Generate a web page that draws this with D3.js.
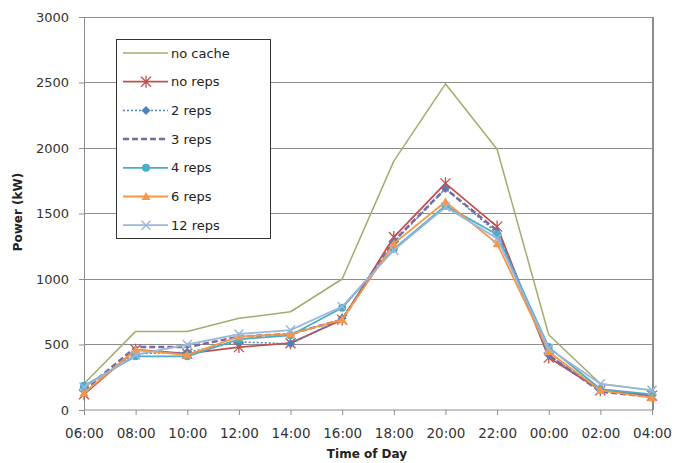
<!DOCTYPE html>
<html>
<head>
<meta charset="utf-8">
<script src="https://cdn.jsdelivr.net/npm/d3@7"></script>
<style>
  html, body { margin: 0; padding: 0; background: #fff; }
  svg { display: block; font-family: "DejaVu Sans", sans-serif; }
</style>
</head>
<body>
<svg id="chart" width="675" height="463"></svg>
<script>
const times = ["06:00","08:00","10:00","12:00","14:00","16:00","18:00","20:00","22:00","00:00","02:00","04:00"];
const yTicks = [0, 500, 1000, 1500, 2000, 2500, 3000];

const noCache = [200, 600, 600, 700, 750, 1000, 1900, 2490, 1990, 575, 200, 150];
const noReps  = [120, 460, 430, 480, 510, 690, 1320, 1730, 1400, 400, 150, 110];
const reps2   = [170, 430, 440, 520, 505, 700, 1280, 1690, 1350, 420, 150, 110];
const reps3   = [150, 480, 480, 560, 580, 690, 1290, 1690, 1370, 420, 140, 100];
const reps4   = [185, 410, 410, 540, 570, 780, 1230, 1560, 1340, 480, 160, 120];
const reps6   = [130, 460, 420, 560, 580, 690, 1270, 1590, 1270, 445, 150, 95];
const reps12  = [175, 420, 500, 580, 610, 790, 1220, 1550, 1310, 470, 200, 150];

const seriesNames = ["no cache","no reps","2 reps","3 reps","4 reps","6 reps","12 reps"];

const series = [
  {name: seriesNames[0], values: noCache, color: "#a4ab6c", width: 1.5, dash: null, marker: null},
  {name: seriesNames[1], values: noReps,  color: "#c0504d", width: 1.8, dash: null, marker: "star"},
  {name: seriesNames[2], values: reps2,   color: "#4f81bd", width: 1.5, dash: "2,2", marker: "diamond"},
  {name: seriesNames[3], values: reps3,   color: "#7a6aa0", width: 2.5, dash: "6,3", marker: null},
  {name: seriesNames[4], values: reps4,   color: "#4bacc6", width: 1.8, dash: null, marker: "circle"},
  {name: seriesNames[5], values: reps6,   color: "#f79646", width: 1.8, dash: null, marker: "triangle"},
  {name: seriesNames[6], values: reps12,  color: "#9bb7d8", width: 1.8, dash: null, marker: "x"}
];

const svg = d3.select("#chart");
const plotL = 84, plotR = 653, plotT = 17, plotB = 410;

const x = d3.scalePoint().domain(times).range([plotL, 652]).padding(0);
const y = d3.scaleLinear().domain([0, 3000]).range([plotB, plotT]);

// gridlines
svg.append("g").selectAll("line").data(yTicks.filter(d => d > 0)).join("line")
  .attr("x1", plotL).attr("x2", plotR)
  .attr("y1", d => y(d)).attr("y2", d => y(d))
  .attr("stroke", "#8c8c8c").attr("stroke-width", 1).attr("shape-rendering", "crispEdges");

// right border
svg.append("line").attr("x1", plotR).attr("x2", plotR).attr("y1", plotT).attr("y2", plotB)
  .attr("stroke", "#8c8c8c").attr("stroke-width", 1.5).attr("shape-rendering", "crispEdges");

// y axis
const yAxis = d3.axisLeft(y).tickValues(yTicks).tickSize(5).tickPadding(10).tickFormat(d3.format("d"));
const gy = svg.append("g").attr("transform", `translate(${plotL},0)`).call(yAxis);
gy.select(".domain").attr("stroke", "#8c8c8c");
gy.selectAll(".tick line").attr("stroke", "#8c8c8c");
gy.selectAll("text").attr("font-size", 13).attr("fill", "#333").attr("font-family", "DejaVu Sans, sans-serif");

// x axis
const xAxis = d3.axisBottom(x).tickSize(5).tickPadding(13);
const gx = svg.append("g").attr("transform", `translate(0,${plotB})`).call(xAxis);
gx.select(".domain").attr("stroke", "#8c8c8c").attr("d", `M${plotL},0H${plotR}`);
gx.selectAll(".tick line").attr("stroke", "#8c8c8c");
gx.selectAll("text").attr("font-size", 13.5).attr("fill", "#333").attr("font-family", "DejaVu Sans, sans-serif");

// axis titles
svg.append("text").attr("x", 367).attr("y", 458).attr("text-anchor", "middle")
  .attr("font-size", 12).attr("font-weight", "bold").attr("fill", "#222").text("Time of Day");
svg.append("text").attr("transform", "translate(22,212) rotate(-90)").attr("text-anchor", "middle")
  .attr("font-size", 12).attr("font-weight", "bold").attr("fill", "#222").text("Power (kW)");

function drawMarker(g, type, cx, cy, color) {
  if (type === "star") {
    const r = 5;
    const p = `M${cx - r},${cy - r}L${cx + r},${cy + r}M${cx - r},${cy + r}L${cx + r},${cy - r}M${cx},${cy - r - 1}L${cx},${cy + r + 1}`;
    g.append("path").attr("d", p).attr("stroke", color).attr("stroke-width", 1.3).attr("fill", "none");
  } else if (type === "diamond") {
    const r = 4.5;
    g.append("path").attr("d", `M${cx},${cy - r}L${cx + r},${cy}L${cx},${cy + r}L${cx - r},${cy}Z`).attr("fill", color);
  } else if (type === "circle") {
    g.append("circle").attr("cx", cx).attr("cy", cy).attr("r", 4).attr("fill", color);
  } else if (type === "triangle") {
    const r = 4.5;
    g.append("path").attr("d", `M${cx},${cy - r}L${cx + r},${cy + r * 0.8}L${cx - r},${cy + r * 0.8}Z`).attr("fill", color);
  } else if (type === "x") {
    const r = 4.5;
    g.append("path").attr("d", `M${cx - r},${cy - r}L${cx + r},${cy + r}M${cx - r},${cy + r}L${cx + r},${cy - r}`)
      .attr("stroke", color).attr("stroke-width", 1.5).attr("fill", "none");
  }
}

const line = d3.line().x((d, i) => x(times[i])).y(d => y(d));
const plot = svg.append("g");
series.forEach(s => {
  plot.append("path").datum(s.values).attr("d", line)
    .attr("fill", "none").attr("stroke", s.color).attr("stroke-width", s.width)
    .attr("stroke-dasharray", s.dash).attr("stroke-linejoin", "round");
  if (s.marker) {
    const mg = plot.append("g");
    s.values.forEach((v, i) => drawMarker(mg, s.marker, x(times[i]), y(v), s.color));
  }
});

// legend
const lg = svg.append("g");
lg.append("rect").attr("x", 116.5).attr("y", 39.5).attr("width", 154).attr("height", 199)
  .attr("fill", "#fff").attr("stroke", "#333").attr("stroke-width", 1);
series.forEach((s, i) => {
  const cy = 53 + i * 28.7;
  lg.append("line").attr("x1", 123).attr("x2", 168).attr("y1", cy).attr("y2", cy)
    .attr("stroke", s.color).attr("stroke-width", s.width).attr("stroke-dasharray", s.dash);
  if (s.marker) drawMarker(lg, s.marker, 146, cy, s.color);
  lg.append("text").attr("x", 171).attr("y", cy + 4.5).attr("font-size", 13).attr("fill", "#222").text(s.name);
});
</script>
</body>
</html>
